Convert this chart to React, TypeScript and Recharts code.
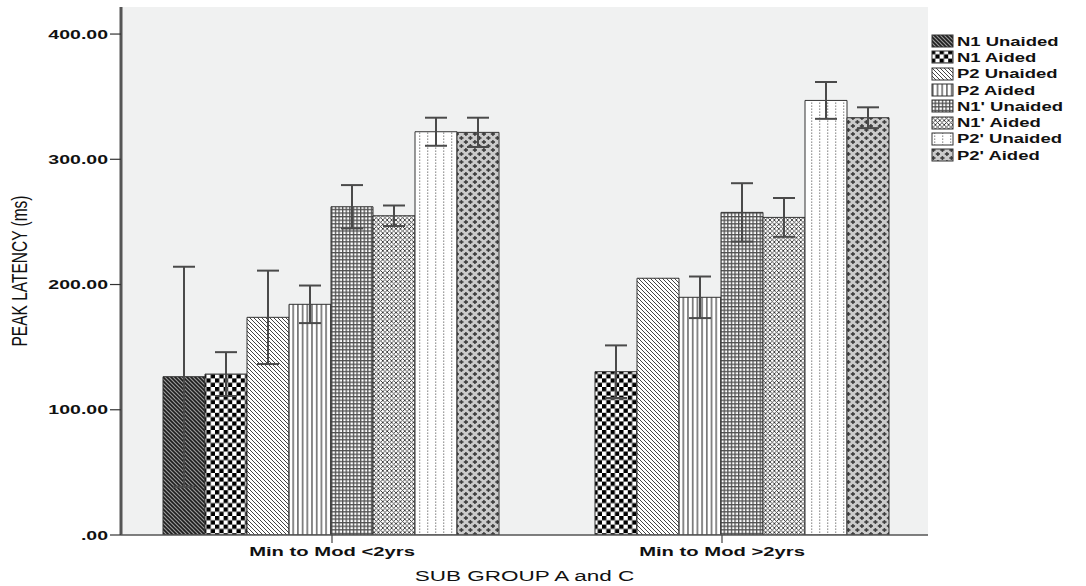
import React from "react";
import {
  BarChart,
  Bar,
  XAxis,
  YAxis,
  CartesianGrid,
  ErrorBar,
  Legend,
  Label,
} from "recharts";

// Sub-group categories on the x axis
const groups = ["Min to Mod <2yrs", "Min to Mod >2yrs"];

// Series names (legend order)
const seriesNames = [
  "N1 Unaided",
  "N1 Aided",
  "P2 Unaided",
  "P2 Aided",
  "N1' Unaided",
  "N1' Aided",
  "P2' Unaided",
  "P2' Aided",
];

// Mean peak latencies (ms) per sub-group
const n1Unaided = [126.4, null];
const n1Aided = [128.5, 130.4];
const p2Unaided = [173.8, 205.0];
const p2Aided = [184.2, 189.8];
const n1pUnaided = [262.1, 257.6];
const n1pAided = [254.9, 253.6];
const p2pUnaided = [322.0, 347.0];
const p2pAided = [321.5, 333.2];

// Error bar half-widths (ms)
const n1UnaidedErr = [87.8, null];
const n1AidedErr = [17.5, 21.0];
const p2UnaidedErr = [37.3, null];
const p2AidedErr = [15.0, 16.6];
const n1pUnaidedErr = [17.3, 23.3];
const n1pAidedErr = [8.2, 15.5];
const p2pUnaidedErr = [11.2, 14.7];
const p2pAidedErr = [11.7, 8.3];

const yTicks = [0, 100, 200, 300, 400];

const seriesValues = [n1Unaided, n1Aided, p2Unaided, p2Aided, n1pUnaided, n1pAided, p2pUnaided, p2pAided];
const seriesErrors = [
  n1UnaidedErr,
  n1AidedErr,
  p2UnaidedErr,
  p2AidedErr,
  n1pUnaidedErr,
  n1pAidedErr,
  p2pUnaidedErr,
  p2pAidedErr,
];
const patternIds = ["pN1U", "pN1A", "pP2U", "pP2A", "pN1pU", "pN1pA", "pP2pU", "pP2pA"];

const data = groups.map((g, gi) => {
  const row: Record<string, any> = { group: g };
  seriesNames.forEach((_, si) => {
    row[`s${si}`] = seriesValues[si][gi];
    row[`e${si}`] = seriesErrors[si][gi];
  });
  return row;
});

const FONT = "'Liberation Sans', Arial, sans-serif";
const STRETCH = 1.5;

const YTick = (props: any) => {
  const { x, y, payload } = props;
  const v = payload.value;
  const txt = v === 0 ? ".00" : Number(v).toFixed(2);
  return (
    <g transform={`translate(${x},${y}) scale(${STRETCH},1)`}>
      <text x={0} y={0} dy="0.36em" textAnchor="end" fontFamily={FONT} fontWeight="bold" fontSize={13} fill="#111">
        {txt}
      </text>
    </g>
  );
};

const XTick = (props: any) => {
  const { x, y, payload } = props;
  return (
    <g transform={`translate(${x},${y}) scale(${STRETCH},1)`}>
      <text x={0} y={0} dy="0.75em" textAnchor="middle" fontFamily={FONT} fontWeight="bold" fontSize={13.5} fill="#111">
        {payload.value}
      </text>
    </g>
  );
};

const XTitle = (props: any) => {
  const vb = props.viewBox;
  const cx = vb.x + vb.width / 2;
  return (
    <g transform={`translate(${cx},${vb.y + 46}) scale(${STRETCH},1)`}>
      <text x={0} y={0} textAnchor="middle" fontFamily={FONT} fontSize={15} fill="#111">
        SUB GROUP A and C
      </text>
    </g>
  );
};

const YTitle = (props: any) => {
  const vb = props.viewBox;
  const cy = vb.y + vb.height / 2;
  return (
    <g transform={`translate(19,${cy}) rotate(-90) scale(1,1.4)`}>
      <text x={0} y={0} dy="0.36em" textAnchor="middle" fontFamily="'Liberation Sans Narrow', 'Liberation Sans', Arial, sans-serif" fontSize={15.5} fill="#111">
        PEAK LATENCY (ms)
      </text>
    </g>
  );
};

const LegendBox = () => (
  <div style={{ fontFamily: FONT }}>
    {seriesNames.map((name, i) => (
      <div key={name} style={{ display: "flex", alignItems: "center", height: 16.3 }}>
        <svg width={24} height={14} style={{ display: "block", flex: "none" }}>
          <rect x={1} y={1} width={21} height={12} fill={`url(#${patternIds[i]})`} stroke="#333" strokeWidth={1} />
        </svg>
        <span
          style={{
            display: "inline-block",
            fontWeight: "bold",
            fontSize: 13,
            color: "#111",
            marginLeft: 2,
            transform: `scaleX(1.42)`,
            transformOrigin: "left center",
            whiteSpace: "nowrap",
          }}
        >
          {name}
        </span>
      </div>
    ))}
  </div>
);

export default function App() {
  return (
    <div style={{ position: "absolute", left: 0, top: 0, background: "#fff" }}>
      <BarChart
        width={1086}
        height={586}
        data={data}
        margin={{ top: 7, right: 158, left: 0, bottom: 0 }}
        barCategoryGap={26}
        barGap={0}
      >
        <defs>
          {/* dark backslash stripes */}
          <pattern id="pN1U" patternUnits="userSpaceOnUse" width={4} height={4}>
            <rect width={4} height={4} fill="#1e1e1e" />
            <path d="M0,0 L4,4 M-1,3 L1,5 M3,-1 L5,1" stroke="#9a9a9a" strokeWidth={1.2} />
          </pattern>
          {/* checkerboard */}
          <pattern id="pN1A" patternUnits="userSpaceOnUse" width={8.6} height={8.6}>
            <rect width={8.6} height={8.6} fill="#fff" />
            <rect width={4.3} height={4.3} fill="#000" />
            <rect x={4.3} y={4.3} width={4.3} height={4.3} fill="#000" />
          </pattern>
          {/* light backslash stripes */}
          <pattern id="pP2U" patternUnits="userSpaceOnUse" width={4} height={4}>
            <rect width={4} height={4} fill="#fff" />
            <path d="M0,0 L4,4 M-1,3 L1,5 M3,-1 L5,1" stroke="#222" strokeWidth={0.85} />
          </pattern>
          {/* vertical stripes */}
          <pattern id="pP2A" patternUnits="userSpaceOnUse" width={4.7} height={4}>
            <rect width={4.7} height={4} fill="#fff" />
            <rect x={1} width={1.6} height={4} fill="#6e6e6e" />
          </pattern>
          {/* fine grid */}
          <pattern id="pN1pU" patternUnits="userSpaceOnUse" width={3.6} height={3.6}>
            <rect width={3.6} height={3.6} fill="#fff" />
            <rect width={3.6} height={1.3} fill="#505050" />
            <rect width={1.3} height={3.6} fill="#505050" />
          </pattern>
          {/* diamond cross-hatch */}
          <pattern id="pN1pA" patternUnits="userSpaceOnUse" width={4.4} height={4.4}>
            <rect width={4.4} height={4.4} fill="#fff" />
            <path
              d="M0,0 L4.4,4.4 M-1,3.4 L1,5.4 M3.4,-1 L5.4,1 M0,4.4 L4.4,0 M-1,1 L1,-1 M3.4,5.4 L5.4,3.4"
              stroke="#2e2e2e"
              strokeWidth={0.85}
            />
          </pattern>
          {/* dotted columns */}
          <pattern id="pP2pU" patternUnits="userSpaceOnUse" width={8} height={3}>
            <rect width={8} height={3} fill="#fff" />
            <rect x={3} y={0.5} width={1.3} height={1.3} fill="#8a8a8a" />
          </pattern>
          {/* staggered crosses on grey */}
          <pattern id="pP2pA" patternUnits="userSpaceOnUse" width={9} height={8}>
            <rect width={9} height={8} fill="#cbcbcb" />
            <rect x={0.3} y={1.2} width={4.2} height={1.6} fill="#3c3c3c" />
            <rect x={1.6} y={0.1} width={1.6} height={3.8} fill="#3c3c3c" />
            <rect x={4.8} y={5.2} width={4.2} height={1.6} fill="#3c3c3c" />
            <rect x={6.1} y={4.1} width={1.6} height={3.8} fill="#3c3c3c" />
          </pattern>
        </defs>
        <CartesianGrid fill="#f0f1f1" stroke="none" horizontal={false} vertical={false} />
        <XAxis
          dataKey="group"
          type="category"
          height={51}
          padding={{ left: 16, right: 11 }}
          axisLine={{ stroke: "#555", strokeWidth: 1.5 }}
          tickLine={{ stroke: "#444", strokeWidth: 1.2 }}
          tickSize={8}
          tickMargin={3}
          tick={<XTick />}
          interval={0}
        >
          <Label content={<XTitle />} />
        </XAxis>
        <XAxis
          xAxisId="top"
          dataKey="group"
          orientation="top"
          height={0}
          tick={false}
          tickLine={false}
          axisLine={{ stroke: "#666", strokeWidth: 1.5 }}
        />
        <YAxis
          type="number"
          domain={[0, 421.6]}
          ticks={yTicks}
          width={121}
          allowDataOverflow
          axisLine={{ stroke: "#555", strokeWidth: 3 }}
          tickLine={{ stroke: "#333", strokeWidth: 1.2 }}
          tickSize={11}
          tickMargin={2}
          tick={<YTick />}
        >
          <Label content={<YTitle />} />
        </YAxis>
        <YAxis
          yAxisId="right"
          orientation="right"
          width={0}
          domain={[0, 421.6]}
          tick={false}
          tickLine={false}
          axisLine={{ stroke: "#666", strokeWidth: 1.5 }}
        />
        <Legend
          layout="vertical"
          align="center"
          verticalAlign="middle"
          content={<LegendBox />}
          wrapperStyle={{ left: 931, top: 33, width: 155, height: "auto" }}
        />
        {seriesNames.map((name, i) => (
          <Bar
            key={name}
            dataKey={`s${i}`}
            name={name}
            fill={`url(#${patternIds[i]})`}
            stroke="#333"
            strokeWidth={1}
            isAnimationActive={false}
          >
            <ErrorBar dataKey={`e${i}`} width={11} stroke="#4a4a4a" strokeWidth={2} direction="y" />
          </Bar>
        ))}
      </BarChart>
    </div>
  );
}
